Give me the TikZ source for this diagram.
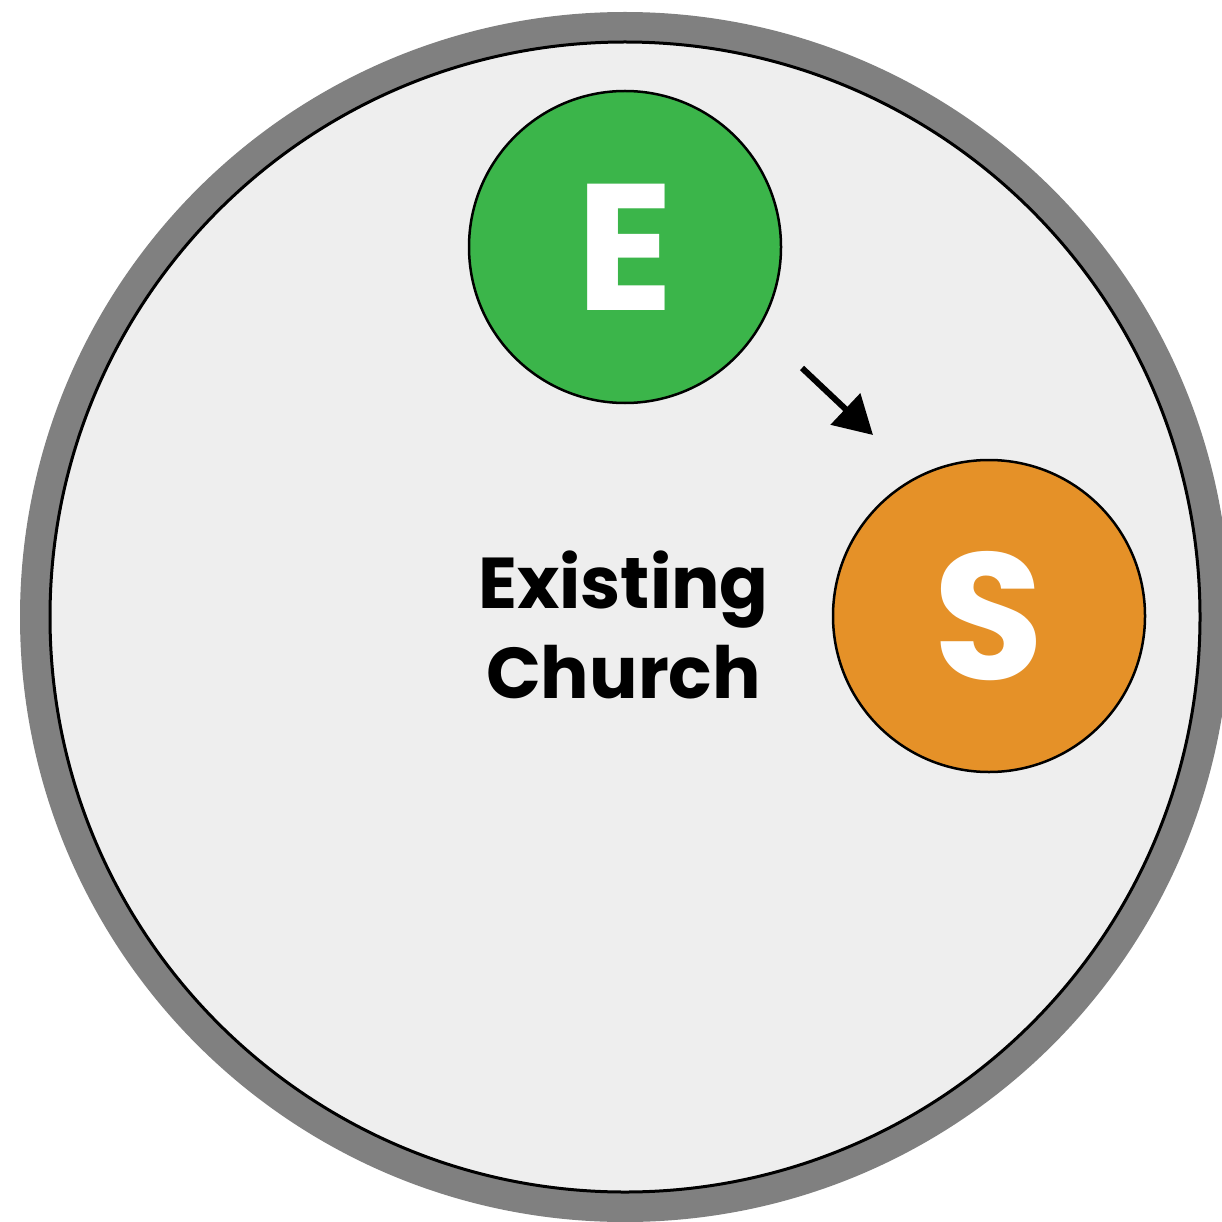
\documentclass[tikz,border=0pt]{standalone}
\usepackage{fontspec}
\setmainfont{Poppins}
\usetikzlibrary{arrows.meta}
\definecolor{ringgray}{HTML}{808080}
\definecolor{innerfill}{HTML}{EEEEEE}
\definecolor{egreen}{HTML}{3BB54A}
\definecolor{sorange}{HTML}{E59128}
\tikzset{
  badge/.style={circle, draw=black, line width=2.5pt, minimum size=312pt, inner sep=0pt,
    text=white, font=\fontsize{180}{180}\selectfont\bfseries},
  lbl/.style={anchor=base, inner sep=0pt, font=\fontsize{72}{72}\selectfont\bfseries, text=black},
  flow/.style={line width=6pt, -{Triangle[length=38pt,width=42pt]}}
}
\begin{document}
\begin{tikzpicture}[x=1pt,y=-1pt]
\useasboundingbox (0,0) rectangle (1222,1222);
\clip (0,0) rectangle (1222,1222);
\fill[white] (0,0) rectangle (1222,1222);
% outer ring
\fill[ringgray] (625,617) circle (605);
\filldraw[fill=innerfill, draw=black, line width=3pt] (625,617) circle (575);
% badges
\node[badge, fill=egreen] (E) at (625,247) {E};
\node[badge, fill=sorange] (S) at (989,616) {S};
% arrow
\coordinate (a1) at (802,368);
\coordinate (a2) at (873,435);
\draw[flow] (a1) -- (a2);
% label
\node[lbl] (l1) at (623.5,608) {Existing};
\node[lbl] (l2) at (623.5,698) {Church};
\end{tikzpicture}
\end{document}
